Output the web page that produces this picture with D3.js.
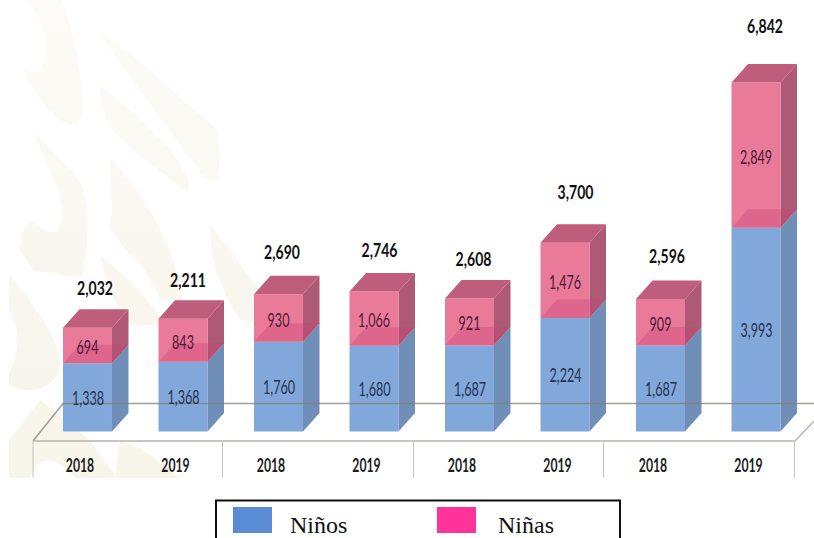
<!DOCTYPE html>
<html>
<head>
<meta charset="utf-8">
<script src="https://cdn.jsdelivr.net/npm/d3@7/dist/d3.min.js"></script>
<style>
  html, body { margin: 0; padding: 0; background: #fff; }
  svg { display: block; }
</style>
</head>
<body>
<div id="chart"></div>
<script>
var years = ["2018", "2019", "2018", "2019", "2018", "2019", "2018", "2019"];
var ninos = [1338, 1368, 1760, 1680, 1687, 2224, 1687, 3993];
var ninas = [694, 843, 930, 1066, 921, 1476, 909, 2849];
var totals = [2032, 2211, 2690, 2746, 2608, 3700, 2596, 6842];
var legendNames = ["Niños", "Niñas"];

var width = 814, height = 538;
var depthX = 16.5, depthY = 18.5;
var fmt = d3.format(",");

var svg = d3.select("#chart").append("svg")
    .attr("width", width)
    .attr("height", height);

var x = d3.scaleBand()
    .domain(d3.range(years.length))
    .range([63, 780.5])
    .paddingInner(0.487)
    .paddingOuter(0);

var y = d3.scaleLinear()
    .domain([0, 6842])
    .range([431.5, 82.5]);

// faint watermark behind the chart, stronger towards the bottom
var defs = svg.append("defs");
defs.append("clipPath").attr("id", "wmclip")
  .append("rect").attr("x", 9).attr("y", 0).attr("width", 790).attr("height", 478);
var grad = defs.append("linearGradient").attr("id", "wmfade")
    .attr("gradientUnits", "userSpaceOnUse")
    .attr("x1", 0).attr("x2", 0).attr("y1", 0).attr("y2", 400);
grad.append("stop").attr("offset", 0).attr("stop-color", "#fcfbf7");
grad.append("stop").attr("offset", 1).attr("stop-color", "#f8f5eb");

var wm = svg.append("g").attr("fill", "url(#wmfade)").attr("clip-path", "url(#wmclip)");
[
  "M27,0 L62,0 C72,30 84,70 82,112 C80,128 66,128 52,112 C38,98 28,84 24,68 C32,76 44,72 46,56 C48,36 40,16 27,0Z",
  "M33,132 C50,150 76,170 84,190 C90,220 88,250 82,275 C70,280 50,270 34,272 L20,250 C20,235 26,222 34,222 C44,232 56,238 62,222 C66,200 50,170 33,132Z",
  "M100,85 C125,105 160,135 178,160 C190,180 192,190 186,192 C160,170 130,150 112,130 C104,115 100,100 100,85Z",
  "M98,30 C130,50 170,90 218,130 C222,180 218,185 205,178 C170,130 130,80 98,30Z",
  "M110,158 C135,185 170,230 184,300 L160,300 C150,270 125,250 112,220Z",
  "M110,215 L140,245 C145,255 140,262 130,255 L110,230Z",
  "M9,275 C30,300 55,330 60,360 C62,380 40,400 9,385 L9,372 C20,360 20,325 9,310Z",
  "M100,255 C125,275 150,300 165,325 L130,325 C115,305 105,285 100,255Z",
  "M210,225 C240,260 270,310 290,330 L240,320 C220,290 210,260 210,225Z",
  "M9,440 L40,400 L90,440 C100,455 110,470 120,478 L75,478 C60,460 40,450 30,478 L9,478Z",
  "M120,440 C150,450 170,470 178,478 L115,478Z"
].forEach(function(d) {
  wm.append("path").attr("d", d);
});

function poly(pts) {
  return d3.line()(pts) + "Z";
}

function face(d, fill, opacity) {
  svg.append("path").attr("d", poly(d)).attr("fill", fill).attr("opacity", opacity === undefined ? 1 : opacity);
}

// bars: blue block first, the pink block sits on top of it
years.forEach(function(yr, i) {
  var x0 = x(i), x1 = x0 + x.bandwidth();
  var y0 = y(0), yb = y(ninos[i]), yt = y(ninos[i] + ninas[i]);

  face([[x1, y0], [x1 + depthX, y0 - depthY], [x1 + depthX, yb - depthY], [x1, yb]], "#6f8eb8");
  face([[x0, y0], [x1, y0], [x1, yb], [x0, yb]], "#82a7db");

  face([[x1, yb], [x1 + depthX, yb - depthY], [x1 + depthX, yt - depthY], [x1, yt]], "#ae5a76");
  face([[x0, yb], [x1, yb], [x1, yt], [x0, yt]], "#e97a9a");
  face([[x0, yt], [x1, yt], [x1 + depthX, yt - depthY], [x0 + depthX, yt - depthY]], "#bf5d7c");

  // the boundary between both blocks shows through the pink
  face([[x0, yb], [x1, yb], [x1 + depthX, yb - depthY], [x0 + depthX, yb - depthY]], "#c93f73", 0.33);
});

// floor
var floor = svg.append("g").attr("fill", "none");
floor.append("path")
    .attr("d", "M33,441 L63,403.5 L814,403.5")
    .attr("stroke", "#7f7f76").attr("stroke-opacity", 0.75).attr("stroke-width", 1.5);
floor.append("path")
    .attr("d", "M33,441 L795,441 L814,421")
    .attr("stroke", "#b5b5ad").attr("stroke-width", 1.5);
[33, 222.5, 413.5, 603.5, 794.5].forEach(function(px) {
  floor.append("line")
      .attr("x1", px).attr("x2", px).attr("y1", 441).attr("y2", 477.5)
      .attr("stroke", "#c4c4bd").attr("stroke-width", 1);
});

function label(g, str, px, py, size, weight, fill, squeeze) {
  g.append("text")
      .attr("transform", "translate(" + px + "," + py + ") scale(" + squeeze + ",1)")
      .attr("text-anchor", "middle")
      .attr("font-family", "Lato, sans-serif")
      .attr("font-size", size)
      .attr("font-weight", weight)
      .attr("fill", fill)
      .text(str);
}

var labels = svg.append("g");

// hand placed in the original, so the totals do not keep a fixed gap
var totalShiftX = [7.5, 5, 3.5, 5.5, 4, 10.5, 6.5, 9];
var totalGap = [14, 13, 17, 16, 14, 25, 18, 31];

years.forEach(function(yr, i) {
  var c = x(i) + x.bandwidth() / 2;
  var yb = y(ninos[i]), yt = y(ninos[i] + ninas[i]);
  label(labels, fmt(ninos[i]), c + 0.5, (y(0) + yb) / 2 + 7.5, 20, 400, "#24334f", 0.63);
  label(labels, fmt(ninas[i]), c, (yb + yt) / 2 + 8.5, 20, 400, "#4f1836", 0.63);
  label(labels, fmt(totals[i]), c + totalShiftX[i], yt - depthY - totalGap[i], 19, 700, "#111", 0.74);
  label(labels, yr, c - 7.5, 472, 18, 700, "#1c1c1c", 0.68);
});

// legend
var legend = svg.append("g");
legend.append("rect")
    .attr("x", 216).attr("y", 500.5).attr("width", 404).attr("height", 50)
    .attr("fill", "#fff").attr("stroke", "#111").attr("stroke-width", 2);
var legendColor = d3.scaleOrdinal().domain(legendNames).range(["#5b8cd6", "#ff3399"]);
var legendX = d3.scalePoint().domain(legendNames).range([233, 437]);
var legendTextX = d3.scalePoint().domain(legendNames).range([290, 498]);
legendNames.forEach(function(name) {
  legend.append("rect")
      .attr("x", legendX(name)).attr("y", 507).attr("width", 39).attr("height", 26)
      .attr("fill", legendColor(name));
  legend.append("text")
      .attr("x", legendTextX(name)).attr("y", 533)
      .attr("font-family", "'Liberation Serif', serif")
      .attr("font-size", 24)
      .attr("fill", "#111")
      .text(name);
});
</script>
</body>
</html>
